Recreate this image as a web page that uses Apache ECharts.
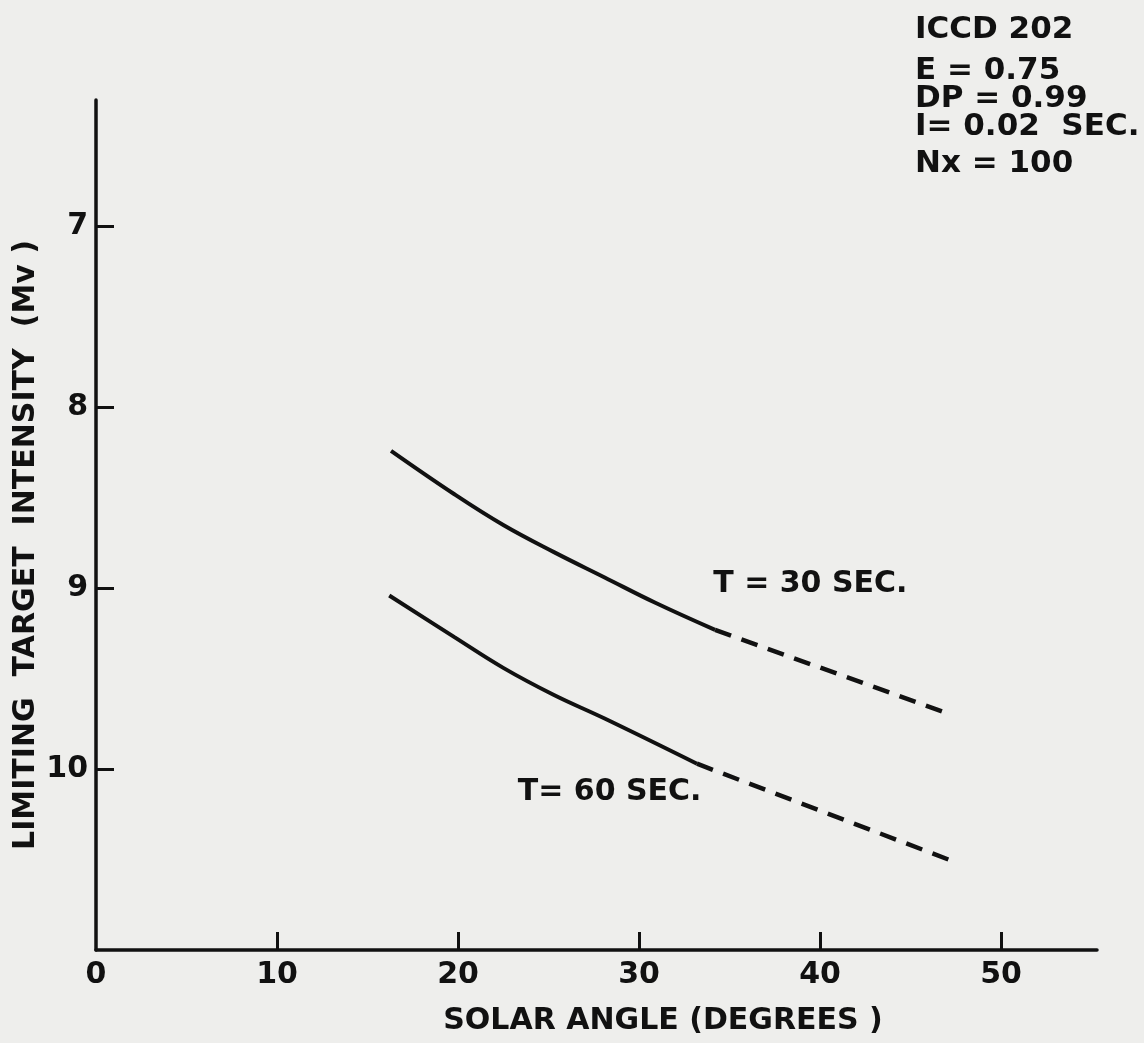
<!DOCTYPE html>
<html>
<head>
<meta charset="utf-8">
<script src="https://cdn.jsdelivr.net/npm/echarts@6/dist/echarts.min.js"></script>
<style>
  html, body { margin: 0; padding: 0; background: #eeeeec; }
  #chart { width: 1144px; height: 1043px; }
</style>
</head>
<body>
<div id="chart"></div>
<script>
// ---- data ----
const xTickLabels = [0, 10, 20, 30, 40, 50];
const xTickMarks = [10, 20, 30, 40, 50];
const yTickLabels = [7, 8, 9, 10];

const t30Angle = [16.3, 19.8, 22.5, 25.3, 28.1, 30.9, 34.2];
const t30Mv    = [8.24, 8.48, 8.65, 8.80, 8.94, 9.08, 9.23];
const t30DashAngle = [34.2, 47.0];
const t30DashMv    = [9.23, 9.69];

const t60Angle = [16.2, 19.8, 22.5, 25.3, 28.1, 33.2];
const t60Mv    = [9.04, 9.27, 9.44, 9.59, 9.72, 9.97];
const t60DashAngle = [33.2, 47.1];
const t60DashMv    = [9.97, 10.50];

const curveLabels = [
  { text: 'T = 30 SEC.', at: [34.1, 8.98] },
  { text: 'T= 60 SEC.', at: [23.3, 10.13] }
];
const infoLines = ['ICCD 202', 'E = 0.75', 'DP = 0.99', 'I= 0.02  SEC.', 'Nx = 100'];
const xTitle = 'SOLAR ANGLE (DEGREES )';
const yTitle = 'LIMITING  TARGET  INTENSITY  (Mv )';

// ---- chart ----
const ink = '#111111';
const FONT = 'DejaVu Sans';
const zip = (a, b) => a.map((v, i) => [v, b[i]]);

const chart = echarts.init(document.getElementById('chart'), null, { renderer: 'canvas' });

const option = {
  backgroundColor: '#eeeeec',
  animation: false,
  grid: { left: 96, top: 100, width: 1001, height: 850, containLabel: false },
  xAxis: {
    type: 'value', min: 0, max: 55.3,
    axisLine: { show: true, onZero: false, lineStyle: { color: ink, width: 3.5 } },
    axisTick: { show: true, inside: true, length: 18, customValues: xTickMarks,
                lineStyle: { color: ink, width: 3 } },
    axisLabel: { show: true, customValues: xTickLabels, margin: 10,
                 color: ink, fontFamily: FONT, fontWeight: 'bold', fontSize: 30 },
    splitLine: { show: false }
  },
  yAxis: {
    type: 'value', inverse: true, min: 6.3, max: 11,
    axisLine: { show: true, onZero: false, lineStyle: { color: ink, width: 3.5 } },
    axisTick: { show: true, inside: true, length: 18, customValues: yTickLabels,
                lineStyle: { color: ink, width: 3 } },
    axisLabel: { show: true, customValues: yTickLabels, margin: 8,
                 color: ink, fontFamily: FONT, fontWeight: 'bold', fontSize: 30 },
    splitLine: { show: false }
  },
  series: [
    { type: 'line', name: 'T = 30 SEC.', data: zip(t30Angle, t30Mv), smooth: 0.4,
      showSymbol: false, lineStyle: { color: ink, width: 4 } },
    { type: 'line', name: 'T = 30 SEC. (extrapolated)', data: zip(t30DashAngle, t30DashMv),
      showSymbol: false, lineStyle: { color: ink, width: 4.5, type: [17, 11] } },
    { type: 'line', name: 'T = 60 SEC.', data: zip(t60Angle, t60Mv), smooth: 0.4,
      showSymbol: false, lineStyle: { color: ink, width: 4 } },
    { type: 'line', name: 'T = 60 SEC. (extrapolated)', data: zip(t60DashAngle, t60DashMv),
      showSymbol: false, lineStyle: { color: ink, width: 4.5, type: [17, 11] } }
  ]
};
chart.setOption(option);

// annotations anchored to data coordinates
const graphics = [];
curveLabels.forEach(l => {
  const p = chart.convertToPixel({ gridIndex: 0 }, l.at);
  graphics.push({ type: 'text', x: p[0], y: p[1],
    style: { text: l.text, fill: ink, font: 'bold 30px "' + FONT + '"',
             textAlign: 'left', textVerticalAlign: 'middle' } });
});
const infoY = [30, 71, 99, 127, 164];
infoLines.forEach((t, i) => {
  graphics.push({ type: 'text', x: 915, y: infoY[i],
    style: { text: t, fill: ink, font: 'bold 31px "' + FONT + '"',
             textAlign: 'left', textVerticalAlign: 'middle' } });
});
graphics.push({ type: 'text', x: 663, y: 1021,
  style: { text: xTitle, fill: ink, font: 'bold 30px "' + FONT + '"',
           textAlign: 'center', textVerticalAlign: 'middle' } });
graphics.push({ type: 'text', x: 26, y: 545, rotation: Math.PI / 2,
  style: { text: yTitle, fill: ink, font: 'bold 30px "' + FONT + '"',
           textAlign: 'center', textVerticalAlign: 'middle' } });
chart.setOption({ graphic: graphics });
</script>
</body>
</html>
